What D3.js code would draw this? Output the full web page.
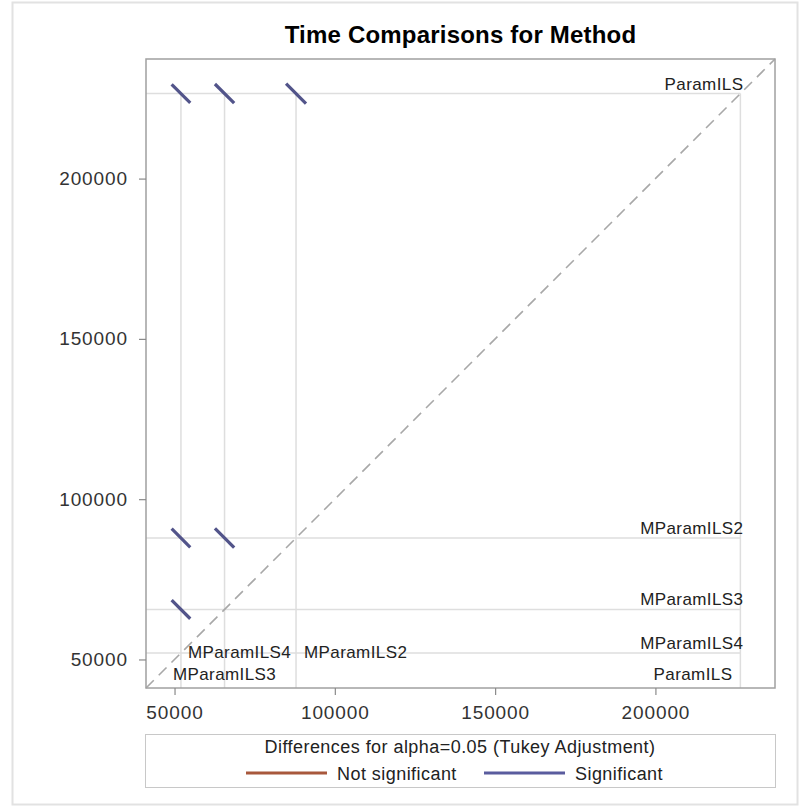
<!DOCTYPE html>
<html>
<head>
<meta charset="utf-8">
<script src="https://cdn.jsdelivr.net/npm/d3@7"></script>
<style>
  html, body { margin: 0; padding: 0; background: #fff; }
  svg { display: block; }
  text { font-family: "Liberation Sans", Arial, sans-serif; }
</style>
</head>
<body>
<div id="chart"></div>
<script>
// ---------------- data ----------------
const title = "Time Comparisons for Method";
const methods = ["ParamILS", "MParamILS2", "MParamILS3", "MParamILS4"];
const meanTime = [226500, 87900, 65600, 52000];

// pairwise comparisons: x level (lower mean), y level (higher mean)
const compX = ["MParamILS4", "MParamILS3", "MParamILS2", "MParamILS4", "MParamILS3", "MParamILS4"];
const compY = ["ParamILS", "ParamILS", "ParamILS", "MParamILS2", "MParamILS2", "MParamILS3"];
const ciHalfWidth = [5800, 6000, 6200, 5800, 6000, 5800];
const significant = [true, true, true, true, true, true];

const tickValues = [50000, 100000, 150000, 200000];
const axisDomain = [41100, 237300];
const legendTitle = "Differences for alpha=0.05 (Tukey Adjustment)";
const legendLabels = ["Not significant", "Significant"];

// ---------------- layout / style ----------------
const W = 809, H = 807;
const frame = { left: 146, right: 775, top: 59, bottom: 688 };
const colNotSig = "#a8583c";
const colSig = "#5a5c9e";
const colSeg = "#52548a";
const refCol = "#dedede";

const svg = d3.select("#chart").append("svg").attr("width", W).attr("height", H);

// outer border
svg.append("rect").attr("x", 12.5).attr("y", 2.5).attr("width", 785).attr("height", 802)
  .attr("fill", "none").attr("stroke", "#e2e2e2").attr("stroke-width", 2);

const x = d3.scaleLinear().domain(axisDomain).range([frame.left, frame.right]);
const y = d3.scaleLinear().domain(axisDomain).range([frame.bottom, frame.top]);
const meanOf = name => meanTime[methods.indexOf(name)];
const maxMean = d3.max(meanTime);

// title
svg.append("text").attr("x", (frame.left + frame.right) / 2).attr("y", 43)
  .attr("text-anchor", "middle").attr("font-size", 24).attr("font-weight", "bold")
  .attr("letter-spacing", 0.2).attr("fill", "#000").text(title);

const plot = svg.append("g");

// reference lines
plot.selectAll("line.vref").data(methods).enter().append("line")
  .attr("x1", d => x(meanOf(d))).attr("x2", d => x(meanOf(d)))
  .attr("y1", frame.bottom).attr("y2", y(maxMean))
  .attr("stroke", refCol).attr("stroke-width", 1.5);
plot.selectAll("line.href").data(methods).enter().append("line")
  .attr("y1", d => y(meanOf(d))).attr("y2", d => y(meanOf(d)))
  .attr("x1", frame.left).attr("x2", x(maxMean))
  .attr("stroke", refCol).attr("stroke-width", 1.5);

// diagonal
plot.append("line")
  .attr("x1", x(axisDomain[0])).attr("y1", y(axisDomain[0]))
  .attr("x2", x(axisDomain[1])).attr("y2", y(axisDomain[1]))
  .attr("stroke", "#a8a8a8").attr("stroke-width", 1.6).attr("stroke-dasharray", "11,7");

// labels: right side (horizontal lines)
const labelFont = 17;
plot.selectAll("text.rlab").data(methods).enter().append("text")
  .attr("x", x(maxMean) + 3).attr("y", d => y(meanOf(d)) - 4)
  .attr("text-anchor", "end").attr("font-size", labelFont).attr("letter-spacing", 0.4)
  .attr("fill", "#222").text(d => d);

// labels: bottom (vertical lines) — row and alignment placement to avoid overlap
const bottomPlacement = {
  "MParamILS3": { row: 1, anchor: "middle", dx: 0 },
  "MParamILS4": { row: 0, anchor: "start", dx: 7 },
  "MParamILS2": { row: 0, anchor: "start", dx: 8 },
  "ParamILS":   { row: 1, anchor: "end", dx: -8 }
};
const rowBase = [658, 680];
plot.selectAll("text.blab").data(methods).enter().append("text")
  .attr("x", d => x(meanOf(d)) + bottomPlacement[d].dx)
  .attr("y", d => rowBase[bottomPlacement[d].row])
  .attr("text-anchor", d => bottomPlacement[d].anchor)
  .attr("font-size", labelFont).attr("letter-spacing", 0.4)
  .attr("fill", "#222").text(d => d);

// comparison segments
const comps = compX.map((cx, i) => ({ mx: meanOf(cx), my: meanOf(compY[i]), w: ciHalfWidth[i], sig: significant[i] }));
plot.selectAll("line.seg").data(comps).enter().append("line")
  .attr("x1", d => x(d.mx - d.w / 2)).attr("y1", d => y(d.my + d.w / 2))
  .attr("x2", d => x(d.mx + d.w / 2)).attr("y2", d => y(d.my - d.w / 2))
  .attr("stroke", d => d.sig ? colSeg : colNotSig).attr("stroke-width", 3.2);

// frame
svg.append("rect").attr("x", frame.left).attr("y", frame.top)
  .attr("width", frame.right - frame.left).attr("height", frame.bottom - frame.top)
  .attr("fill", "none").attr("stroke", "#a0a0a0").attr("stroke-width", 1.5);

// axes
const tickFont = 19;
const xAxis = svg.append("g").attr("transform", `translate(0,${frame.bottom})`)
  .call(d3.axisBottom(x).tickValues(tickValues).tickSize(7).tickPadding(11).tickFormat(d3.format("d")));
const yAxis = svg.append("g").attr("transform", `translate(${frame.left},0)`)
  .call(d3.axisLeft(y).tickValues(tickValues).tickSize(7).tickPadding(11).tickFormat(d3.format("d")));
[xAxis, yAxis].forEach(a => {
  a.select(".domain").remove();
  a.selectAll(".tick line").attr("stroke", "#8a8a8a").attr("stroke-width", 1.2);
  a.selectAll(".tick text").attr("font-size", tickFont).attr("letter-spacing", 0.9)
    .attr("fill", "#333").attr("font-family", "'Liberation Sans', Arial, sans-serif");
});

// legend
const lg = svg.append("g");
lg.append("rect").attr("x", 145.5).attr("y", 734.5).attr("width", 630).attr("height", 53)
  .attr("fill", "none").attr("stroke", "#c8c8c8").attr("stroke-width", 1);
lg.append("text").attr("x", 460).attr("y", 753).attr("text-anchor", "middle")
  .attr("font-size", 18).attr("letter-spacing", 0.45).attr("fill", "#222").text(legendTitle);
const legendItems = [
  { label: legendLabels[0], color: colNotSig, x0: 246 },
  { label: legendLabels[1], color: colSig, x0: 484 }
];
const li = lg.selectAll("g.item").data(legendItems).enter().append("g");
li.append("line").attr("x1", d => d.x0).attr("x2", d => d.x0 + 81)
  .attr("y1", 773).attr("y2", 773).attr("stroke", d => d.color).attr("stroke-width", 3);
li.append("text").attr("x", d => d.x0 + 91).attr("y", 780)
  .attr("font-size", 18).attr("letter-spacing", 0.45).attr("fill", "#222").text(d => d.label);
</script>
</body>
</html>
